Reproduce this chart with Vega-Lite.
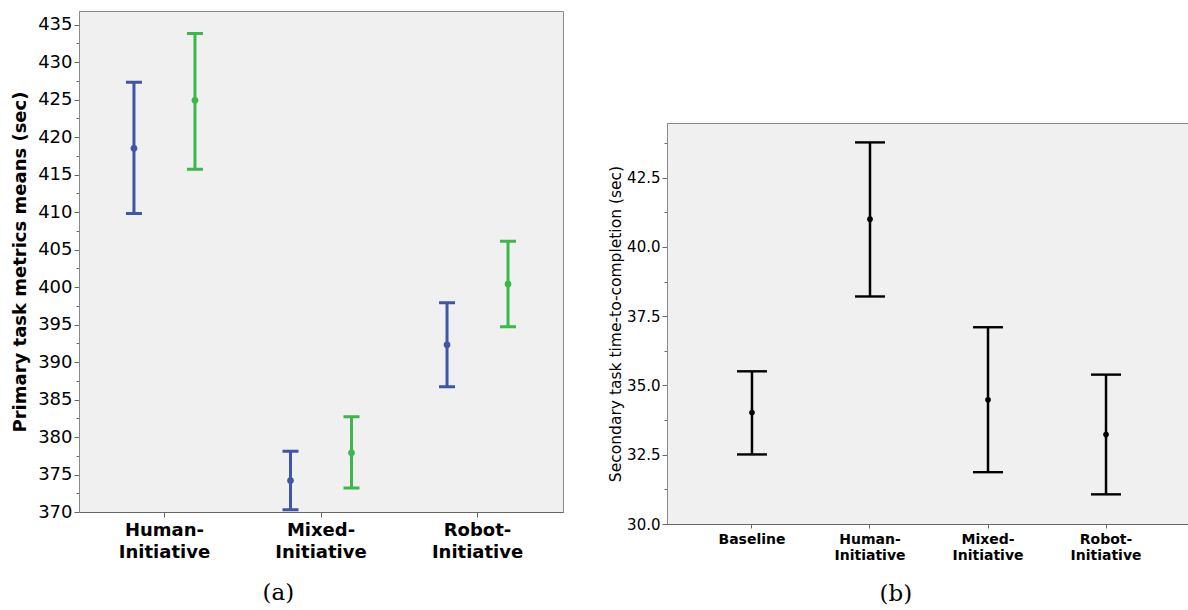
{
  "$schema": "https://vega.github.io/schema/vega-lite/v6.json",
  "padding": {"top": 10, "left": 11, "right": 0, "bottom": 0},
  "background": "white",
  "config": {
    "font": "DejaVu Sans",
    "view": {"stroke": "#8a8a8a", "fill": "#f0f0f0"},
    "axis": {"grid": false, "domainColor": "#666", "tickColor": "#666", "labelColor": "#000", "titleColor": "#000", "labelOverlap": false}
  },
  "datasets": {
    "primary": [
      {"condition": "Human-Initiative", "series": "Series 1", "mean": 418.5, "lower": 409.8, "upper": 427.3},
      {"condition": "Human-Initiative", "series": "Series 2", "mean": 424.9, "lower": 415.7, "upper": 433.8},
      {"condition": "Mixed-Initiative", "series": "Series 1", "mean": 374.2, "lower": 370.3, "upper": 378.1},
      {"condition": "Mixed-Initiative", "series": "Series 2", "mean": 377.9, "lower": 373.2, "upper": 382.7},
      {"condition": "Robot-Initiative", "series": "Series 1", "mean": 392.3, "lower": 386.7, "upper": 397.9},
      {"condition": "Robot-Initiative", "series": "Series 2", "mean": 400.4, "lower": 394.7, "upper": 406.1}
    ],
    "secondary": [
      {"condition": "Baseline", "mean": 34.02, "lower": 32.51, "upper": 35.51},
      {"condition": "Human-Initiative", "mean": 41.0, "lower": 38.21, "upper": 43.77},
      {"condition": "Mixed-Initiative", "mean": 34.48, "lower": 31.87, "upper": 37.1},
      {"condition": "Robot-Initiative", "mean": 33.23, "lower": 31.07, "upper": 35.39}
    ]
  },
  "hconcat": [
    {
      "width": 484,
      "height": 501,
      "data": {"name": "primary"},
      "title": {"text": "(a)", "orient": "bottom", "anchor": "middle", "frame": "bounds", "font": "DejaVu Serif", "fontSize": 23, "fontWeight": "normal", "offset": 21, "dx": -9},
      "encoding": {
        "x": {
          "field": "condition", "type": "nominal", "sort": null,
          "scale": {"type": "band", "paddingInner": 0, "paddingOuter": 0.046},
          "axis": {"title": null, "labelAngle": 0, "labelFontSize": 18, "labelFontWeight": "bold", "labelLineHeight": 22, "labelPadding": 4, "tickSize": 5,
                   "labelExpr": "indexof(datum.label,'-')>0 ? [split(datum.label,'-')[0]+'-', split(datum.label,'-')[1]] : datum.label"}
        },
        "xOffset": {"field": "series", "type": "nominal", "scale": {"type": "band", "paddingInner": 0, "paddingOuter": 0.283}},
        "color": {"field": "series", "type": "nominal", "scale": {"domain": ["Series 1", "Series 2"], "range": ["#3f55a8", "#3bb84a"]}, "legend": null}
      },
      "layer": [
        {
          "mark": {"type": "rule", "strokeWidth": 3},
          "encoding": {
            "y": {"field": "lower", "type": "quantitative",
                  "scale": {"domain": [370, 436.8], "nice": false, "zero": false},
                  "axis": {"orient": "left", "title": "Primary task metrics means (sec)", "titleFontSize": 18, "titleFontWeight": "bold", "titlePadding": 8,
                           "values": [370, 372.5, 375, 377.5, 380, 382.5, 385, 387.5, 390, 392.5, 395, 397.5, 400, 402.5, 405, 407.5, 410, 412.5, 415, 417.5, 420, 422.5, 425, 427.5, 430, 432.5, 435],
                           "labelExpr": "datum.value % 5 === 0 ? datum.label : ''",
                           "labelOverlap": false,
                           "tickSize": {"condition": {"test": "datum.value % 5 === 0", "value": 5}, "value": 3},
                           "labelFontSize": 18, "labelPadding": 2, "domainColor": "#8a8a8a"}},
            "y2": {"field": "upper"}
          }
        },
        {
          "mark": {"type": "tick", "size": 16, "thickness": 3, "opacity": 1},
          "encoding": {"y": {"field": "lower", "type": "quantitative", "axis": null}}
        },
        {
          "mark": {"type": "tick", "size": 16, "thickness": 3, "opacity": 1},
          "encoding": {"y": {"field": "upper", "type": "quantitative", "axis": null}}
        },
        {
          "mark": {"type": "point", "filled": true, "size": 45, "opacity": 1},
          "encoding": {"y": {"field": "mean", "type": "quantitative", "axis": null}}
        }
      ],
      "resolve": {"axis": {"y": "independent"}}
    },
    {
      "spacing": 0,
      "vconcat": [
        {
          "width": 10,
          "height": 111,
          "data": {"values": []},
          "mark": "point",
          "view": {"stroke": null, "fill": null}
        },
        {
          "width": 524,
          "height": 401,
          "data": {"name": "secondary"},
          "title": {"text": "(b)", "orient": "bottom", "anchor": "middle", "frame": "bounds", "font": "DejaVu Serif", "fontSize": 23, "fontWeight": "normal", "offset": 21, "dx": -4},
          "encoding": {
            "x": {
              "field": "condition", "type": "nominal", "sort": null,
              "scale": {"type": "band", "paddingInner": 0, "paddingOuter": 0.22},
              "axis": {"title": null, "labelAngle": 0, "labelFontSize": 14, "labelFontWeight": "bold", "labelLineHeight": 16, "labelPadding": 4, "tickSize": 4,
                       "labelExpr": "indexof(datum.label,'-')>0 ? [split(datum.label,'-')[0]+'-', split(datum.label,'-')[1]] : datum.label"}
            }
          },
          "layer": [
            {
              "mark": {"type": "rule", "strokeWidth": 2.5, "color": "#000"},
              "encoding": {
                "y": {"field": "lower", "type": "quantitative",
                      "scale": {"domain": [30, 44.47], "nice": false, "zero": false},
                      "axis": {"orient": "left", "title": "Secondary task time-to-completion (sec)", "titleFontSize": 15.5, "titleFontWeight": "normal", "titlePadding": 3,
                               "values": [30, 31.25, 32.5, 33.75, 35, 36.25, 37.5, 38.75, 40, 41.25, 42.5, 43.75],
                               "labelExpr": "datum.value % 2.5 === 0 ? format(datum.value, '.1f') : ''",
                               "labelOverlap": false,
                               "tickSize": {"condition": {"test": "datum.value % 2.5 === 0", "value": 5}, "value": 3},
                               "labelFontSize": 15, "labelPadding": 2, "domainColor": "#8a8a8a"}},
                "y2": {"field": "upper"}
              }
            },
            {
              "mark": {"type": "tick", "size": 30, "thickness": 2.4, "color": "#000", "opacity": 1},
              "encoding": {"y": {"field": "lower", "type": "quantitative", "axis": null}}
            },
            {
              "mark": {"type": "tick", "size": 30, "thickness": 2.4, "color": "#000", "opacity": 1},
              "encoding": {"y": {"field": "upper", "type": "quantitative", "axis": null}}
            },
            {
              "mark": {"type": "point", "filled": true, "size": 32, "opacity": 1, "color": "#000"},
              "encoding": {"y": {"field": "mean", "type": "quantitative", "axis": null}}
            }
          ],
          "resolve": {"axis": {"y": "independent"}}
        }
      ]
    }
  ],
  "spacing": 44
}
